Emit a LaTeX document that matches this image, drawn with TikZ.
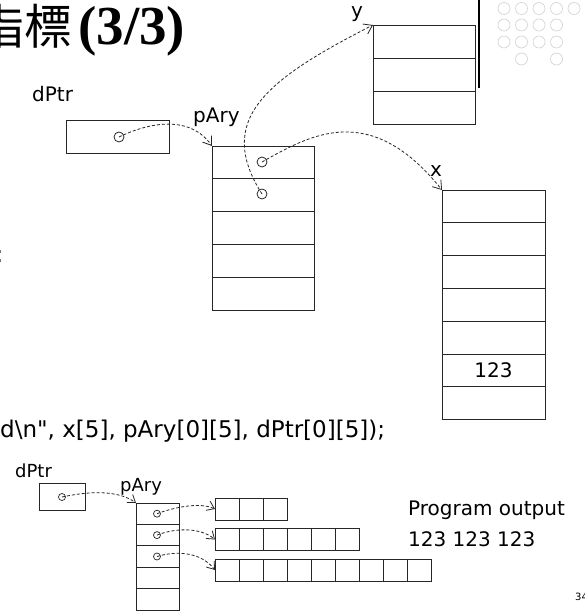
\documentclass[tikz,border=0pt]{standalone}
\usepackage{fontspec}
\setmainfont{DejaVu Sans}
\newfontfamily\codefont{DejaVu Sans}
\newfontfamily\cjk{Noto Sans CJK TC}
\newfontfamily\tnr{Liberation Serif}
\usetikzlibrary{arrows.meta,calc}
\begin{document}
\begin{tikzpicture}[x=1pt,y=-1pt,
  box/.style={draw=black!85, line width=0.9pt, inner sep=0, outer sep=0, anchor=north west},
  ptr/.style={draw=black!85, dash pattern=on 3pt off 2pt, line width=0.8pt, -{Straight Barb[length=8pt,width=11pt]}},
  sptr/.style={ptr, -{Straight Barb[length=7pt,width=10pt]}},
  dot/.style={circle, draw=black!85, line width=0.8pt, inner sep=0, minimum size=10pt},
  sdot/.style={circle, draw=black!85, line width=0.7pt, inner sep=0, minimum size=7pt},
  lbl/.style={inner sep=0, font=\fontsize{20}{24}\selectfont},
  slbl/.style={inner sep=0, font=\fontsize{18}{22}\selectfont},
  deco/.style={circle, draw=black!18, line width=0.6pt, inner sep=0, minimum size=12pt}
]
\fill[white] (0,0) rectangle (585,612);
\useasboundingbox (0,0) rectangle (585,612);

% title
\node[anchor=base west, inner sep=0] (title) at (-24,45) {{\cjk\fontsize{48}{48}\selectfont 指標}\hspace{6pt}{\tnr\bfseries\fontsize{55}{55}\selectfont (3/3)}};

% cut-off mark at the left edge
\node[anchor=base east, inner sep=0, font=\codefont\fontsize{23}{27}\selectfont] (cut) at (3.6,262) {:};

% decoration
\draw[line width=2.5pt] (479,0) -- (479,88);
\foreach \i/\cx/\cy in {1/504/8.5,2/521.5/8.5,3/539/8.5,4/556.5/8.5,5/574/8.5,
  6/504/25,7/521.5/25,8/539/25,9/556.5/25,
  10/504/42,11/521.5/42,12/539/42,13/556.5/42,
  14/521.5/59,15/556.5/59}
  \node[deco] (g\i) at (\cx,\cy) {};

% y array
\node[lbl, anchor=base] (ylab) at (357,18) {y};
\foreach \k in {1,2,3}
  \node[box, minimum width=102pt, minimum height=33pt] (y\k) at (373,{25+(\k-1)*33}) {};

% dPtr (top)
\node[lbl, anchor=base west] (dplab) at (32,102) {dPtr};
\node[box, minimum width=103pt, minimum height=33pt] (dp) at (66,120) {};
\node[dot] (dpc) at (119,137) {};

% pAry (top)
\node[lbl, anchor=base west] (palab) at (193,123) {pAry};
\foreach \k in {1,...,5}
  \node[box, minimum width=102pt, minimum height=32.8pt] (pa\k) at (212,{146+(\k-1)*32.8}) {};
\node[dot] (pc1) at (262,162) {};
\node[dot] (pc2) at (262,194) {};

% x array
\node[lbl, anchor=base] (xlab) at (436,177) {x};
\foreach \k in {1,...,7}
  \node[box, minimum width=103pt, minimum height=32.8pt] (x\k) at (442,{190+(\k-1)*32.8}) {};
\node[lbl] (v123) at (x6.center) {123};

% top pointers
\draw[ptr] (dpc.center) .. controls (150,122) and (190,115) .. (pa1.north west);
\draw[ptr] (pc1.center) .. controls (310,135) and (370,100) .. (x1.north west);
\draw[ptr] (pc2.center) .. controls (215,120) and (265,80) .. (y1.north west);

% code line
\node[anchor=base west, inner sep=0, font=\codefont\fontsize{23}{27}\selectfont] (code) at (0,437) {d\textbackslash n", x[5], pAry[0][5], dPtr[0][5]);};

% bottom diagram
\node[slbl, anchor=base west] (bdlab) at (15,477) {dPtr};
\node[box, minimum width=46pt, minimum height=27pt] (bd) at (39,483) {};
\node[sdot] (bdc) at (62,497) {};
\node[slbl, anchor=base west] (bplab) at (120,491) {pAry};
\foreach \k in {1,...,5}
  \node[box, minimum width=43pt, minimum height=21.4pt] (bp\k) at (136,{503+(\k-1)*21.4}) {};
\foreach \k in {1,2,3}
  \node[sdot] (bc\k) at (157,{513.7+(\k-1)*21.4}) {};

\foreach \k in {1,2,3}
  \node[box, minimum width=24pt, minimum height=22pt] (ra\k) at ({215+(\k-1)*24},498) {};
\foreach \k in {1,...,6}
  \node[box, minimum width=24pt, minimum height=22pt] (rb\k) at ({215+(\k-1)*24},528.5) {};
\foreach \k in {1,...,9}
  \node[box, minimum width=24pt, minimum height=22pt] (rc\k) at ({215+(\k-1)*24},559) {};

\draw[sptr] (bdc.center) .. controls (90,491) and (118,490) .. (bp1.north west);
\draw[sptr] (bc1.center) .. controls (175,507) and (200,502) .. (ra1.west);
\draw[sptr] (bc2.center) .. controls (175,528) and (200,527) .. (rb1.west);
\draw[sptr] (bc3.center) .. controls (175,551) and (200,551) .. (rc1.west);

\node[lbl, anchor=base west] (po) at (408,515) {Program output};
\node[lbl, anchor=base west] (po2) at (408,546) {123 123 123};
\node[anchor=base west, inner sep=0, font=\fontsize{10}{12}\selectfont] (pg) at (575,600) {34};
\end{tikzpicture}
\end{document}
